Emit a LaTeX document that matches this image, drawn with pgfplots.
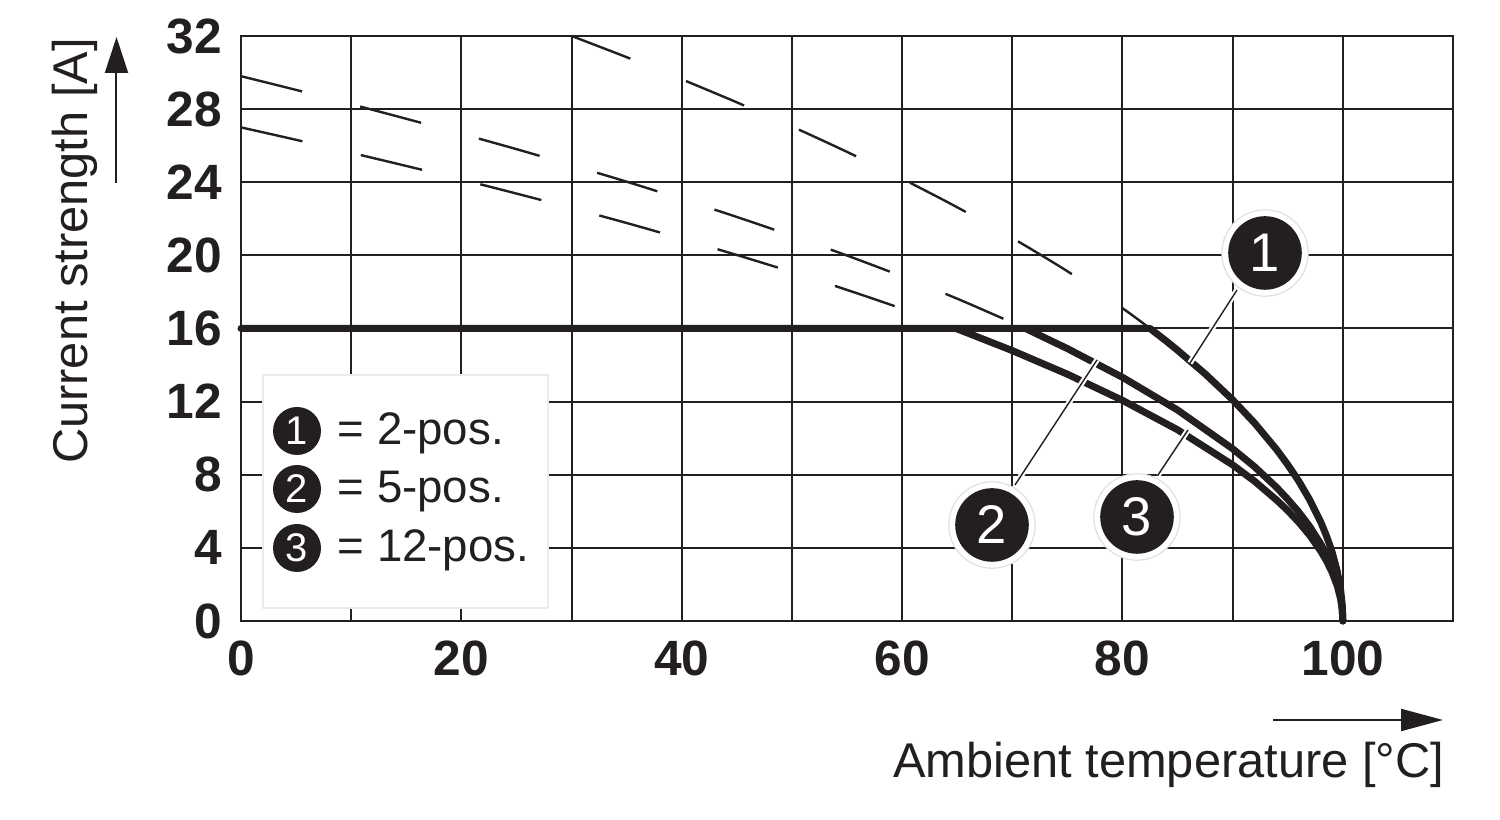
\documentclass[border=0pt]{standalone}
\usepackage{fontspec}
\setmainfont{Liberation Sans}
\usepackage{pgfplots}
\pgfplotsset{compat=1.18}
\usetikzlibrary{arrows.meta}
\definecolor{ink}{RGB}{35,31,32}
\begin{document}
\begin{tikzpicture}
\begin{scope}[shift={(-60.25pt,155.25pt)},x=0.25pt,y=-0.25pt]
\path[use as bounding box] (0,0) rectangle (1500,820);
\end{scope}
\begin{axis}[
  at={(0,0)}, anchor=south west,
  scale only axis, width=303pt, height=146.25pt,
  xmin=0, xmax=110, ymin=0, ymax=32,
  xtick={0,20,...,100}, minor xtick={10,30,...,110},
  ytick={0,4,...,32},
  grid=both,
  major grid style={ink, line width=0.5pt},
  minor grid style={ink, line width=0.5pt},
  axis line style={ink, line width=0.6pt},
  major tick length=0pt, minor tick length=0pt,
  tick style={draw=none},
  /pgf/number format/assume math mode=true,
  ticklabel style={font=\fontsize{12.4}{14}\selectfont\bfseries, text=ink},
  xticklabel style={yshift=-1.5pt},
  yticklabel style={xshift=-1.25pt},
  clip=false,
]
% dashed extensions
\addplot[ink, line width=0.6pt, dash pattern=on 15.75pt off 15pt, smooth] coordinates {
(30,32.00)(35,30.84)(40,29.63)(45,28.37)(50,27.05)(55,25.66)(60,24.19)(65,22.63)(70,20.95)(75,19.13)(80,17.11)(82.5,16.00)};
\addplot[ink, line width=0.6pt, dash pattern=on 15.75pt off 15pt, smooth] coordinates {
(0,29.80)(5,29.05)(10,28.27)(15,27.47)(20,26.65)(25,25.81)(30,24.93)(35,24.03)(40,23.08)(45,22.10)(50,21.07)(55,19.99)(60,18.85)(65,17.63)(70,16.32)(71.2,16.00)};
\addplot[ink, line width=0.6pt, dash pattern=on 15.75pt off 15pt, smooth] coordinates {
(0,27.00)(5,26.32)(10,25.61)(15,24.89)(20,24.15)(25,23.38)(30,22.59)(35,21.77)(40,20.91)(45,20.02)(50,19.09)(55,18.11)(60,17.08)(64.9,16.00)};
% solid derating curves
\addplot[ink, line width=1.75pt, line cap=round, line join=round] coordinates {
(64.9,16.00)(70,14.79)(75,13.50)(80,12.07)(85,10.46)(90,8.54)(92,7.64)(94,6.61)(95,6.04)(96,5.40)(97,4.68)(98,3.82)(98.5,3.31)(99,2.70)(99.5,1.91)(99.8,1.21)(99.95,0.60)(100,0)};
\addplot[ink, line width=1.75pt, line cap=round, line join=round] coordinates {
(71.2,16.00)(75,14.90)(80,13.33)(85,11.54)(90,9.42)(92,8.43)(94,7.30)(95,6.66)(96,5.96)(97,5.16)(98,4.21)(98.5,3.65)(99,2.98)(99.5,2.11)(99.8,1.33)(99.95,0.67)(100,0)};
\addplot[ink, line width=1.75pt, line cap=round, line join=round] coordinates {
(0,16)(82.5,16.00)(84,15.30)(85,14.81)(87.5,13.52)(90,12.10)(92,10.82)(94,9.37)(95,8.55)(96,7.65)(97,6.62)(98,5.41)(98.5,4.68)(99,3.83)(99.5,2.70)(99.8,1.71)(99.95,0.86)(100,0)};
\end{axis}
\begin{scope}[shift={(-60.25pt,155.25pt)},x=0.25pt,y=-0.25pt]
% legend box
\draw[black!8, fill=white, line width=0.4pt] (263,375) rectangle (548,608);
\foreach \n/\cy/\by/\t in {1/431/445/2-pos., 2/489/503/5-pos., 3/548/562/12-pos.}{
  \fill[ink] (297,\cy) circle (6pt);
  \node[text=white, inner sep=0, font=\fontsize{10}{10}\selectfont] at (297,\cy) {\n};
  \node[anchor=base west, inner sep=0, text=ink, font=\fontsize{11.4}{12}\selectfont] at (337,\by) {= \t};
}
% leader lines
\foreach \a/\b in {{(1237,290)}/{(1190,363)}, {(1015,485)}/{(1097,360)}, {(1158,475)}/{(1188,430)}}{
  \draw[white, line width=1.4pt] \a -- \b;
  \draw[ink, line width=0.35pt] \a -- \b;
}
% numbered circles
\foreach \n/\cx/\cy in {1/1265/253, 2/992/525, 3/1137/517}{
  \fill[white] (\cx,\cy) circle (10.8pt);
  \draw[black!12, line width=0.3pt] (\cx,\cy) circle (10.8pt);
  \fill[ink] (\cx,\cy) circle (9.2pt);
  \node[text=white, inner sep=0, font=\fontsize{13.6}{14}\selectfont] at (\cx,\cy) {\n};
}
% axis labels and arrows
\node[rotate=90, anchor=base, inner sep=0, text=ink, font=\fontsize{12.2}{14}\selectfont] at (88,251) {Current strength [A]};
\node[anchor=base east, inner sep=0, text=ink, font=\fontsize{12.2}{14}\selectfont] at (1445,778) {Ambient temperature [°C]};
\draw[ink, line width=0.5pt, -{Triangle[length=9pt,width=5.75pt]}] (116.5,183) -- (116.5,37);
\draw[ink, line width=0.5pt, -{Triangle[length=10.5pt,width=5.5pt]}] (1273,720) -- (1443,720);
\end{scope}
\end{tikzpicture}
\end{document}
